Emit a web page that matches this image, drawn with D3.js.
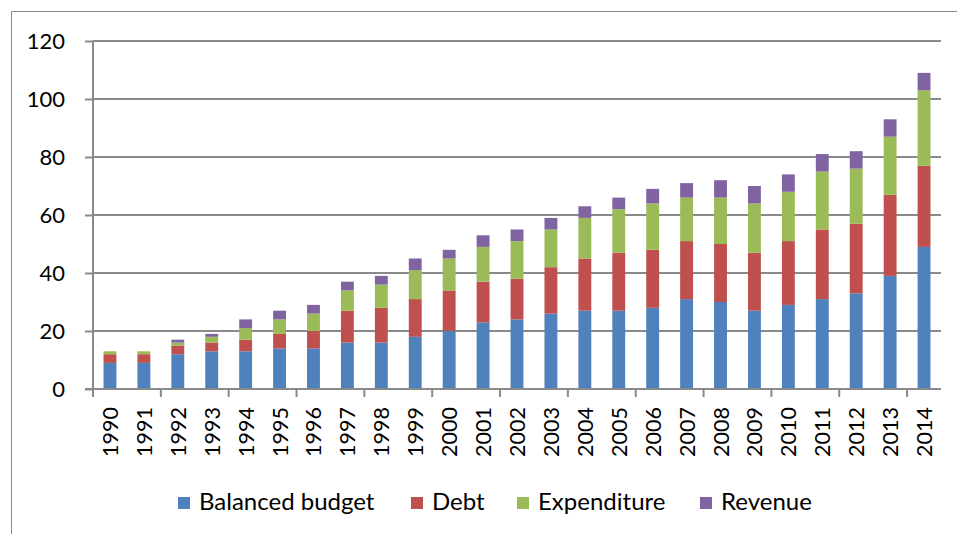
<!DOCTYPE html>
<html>
<head>
<meta charset="utf-8">
<script src="https://cdn.jsdelivr.net/npm/d3@7"></script>
<style>
  body { margin: 0; background: #fff; }
  svg text { font-family: Lato, "Open Sans", sans-serif; fill: #000; }
</style>
</head>
<body>
<script>
// data
const years = ['1990','1991','1992','1993','1994','1995','1996','1997','1998','1999','2000','2001','2002',
  '2003','2004','2005','2006','2007','2008','2009','2010','2011','2012','2013','2014'];
const balancedBudget = [9,9,12,13,13,14,14,16,16,18,20,23,24,26,27,27,28,31,30,27,29,31,33,39,49];
const debt           = [3,3,3,3,4,5,6,11,12,13,14,14,14,16,18,20,20,20,20,20,22,24,24,28,28];
const expenditure    = [1,1,1,2,4,5,6,7,8,10,11,12,13,13,14,15,16,15,16,17,17,20,19,20,26];
const revenue        = [0,0,1,1,3,3,3,3,3,4,3,4,4,4,4,4,5,5,6,6,6,6,6,6,6];
const yTicks = [0,20,40,60,80,100,120];
const seriesNames = ['Balanced budget','Debt','Expenditure','Revenue'];
const colors = ['#4F81BD','#C0504D','#9BBB59','#8064A2'];

const W = 957, H = 534;
const plot = { left: 93, right: 941, top: 41, bottom: 389 };
const gridColor = '#8a8a8a';

const svg = d3.select('body').append('svg').attr('width', W).attr('height', H);

// outer chart frame (only top and left edges visible)
svg.append('path')
  .attr('d', `M11.5,${H} V11.5 H${W}`)
  .attr('fill', 'none').attr('stroke', gridColor).attr('stroke-width', 1);

const x = d3.scaleBand().domain(years).range([plot.left, plot.right]).paddingInner(0.62).paddingOuter(0.31);
const y = d3.scaleLinear().domain([0, 120]).range([plot.bottom, plot.top]);

// y grid + ticks
const yAxis = svg.append('g')
  .attr('transform', `translate(${plot.left},0)`)
  .call(d3.axisLeft(y).tickValues(yTicks).tickSize(8).tickPadding(20));
yAxis.select('.domain').remove();
yAxis.selectAll('line').attr('stroke', gridColor).attr('stroke-width', 2);
yAxis.selectAll('text').attr('font-size', 22).style('font-family', 'Lato, sans-serif');

svg.append('g').selectAll('line').data(yTicks).join('line')
  .attr('x1', plot.left).attr('x2', plot.right)
  .attr('y1', d => y(d)).attr('y2', d => y(d))
  .attr('stroke', gridColor).attr('stroke-width', 2);

// stacked bars
const rows = years.map((yr, i) => ({
  year: yr,
  'Balanced budget': balancedBudget[i],
  'Debt': debt[i],
  'Expenditure': expenditure[i],
  'Revenue': revenue[i]
}));
const stacked = d3.stack().keys(seriesNames)(rows);

svg.append('g').selectAll('g').data(stacked).join('g')
  .attr('fill', (d, i) => colors[i])
  .selectAll('rect').data(d => d).join('rect')
  .attr('x', d => x(d.data.year))
  .attr('width', x.bandwidth())
  .attr('y', d => y(d[1]))
  .attr('height', d => y(d[0]) - y(d[1]));

// x axis line, ticks every 2 categories, labels
const step = x.step();
svg.append('line')
  .attr('x1', plot.left - 8).attr('x2', plot.right)
  .attr('y1', plot.bottom).attr('y2', plot.bottom)
  .attr('stroke', gridColor).attr('stroke-width', 2);
svg.append('line')
  .attr('x1', plot.left).attr('x2', plot.left)
  .attr('y1', plot.top).attr('y2', plot.bottom + 8)
  .attr('stroke', gridColor).attr('stroke-width', 2);

const tickIdx = d3.range(2, years.length + 1, 2);
svg.append('g').selectAll('line').data(tickIdx).join('line')
  .attr('x1', i => plot.left + i * step).attr('x2', i => plot.left + i * step)
  .attr('y1', plot.bottom).attr('y2', plot.bottom + 8)
  .attr('stroke', gridColor).attr('stroke-width', 2);

svg.append('g').selectAll('text').data(years).join('text')
  .attr('transform', d => `translate(${x(d) + x.bandwidth() / 2 + 8},407) rotate(-90)`)
  .attr('text-anchor', 'end')
  .attr('font-size', 21.5)
  .text(d => d);

// legend
const legendX = [178, 411, 517, 700];
const legend = svg.append('g').selectAll('g').data(seriesNames).join('g')
  .attr('transform', (d, i) => `translate(${legendX[i]},497)`);
legend.append('rect').attr('width', 12).attr('height', 12).attr('fill', (d, i) => colors[i]);
legend.append('text').attr('x', 21).attr('y', 13).attr('font-size', 24).text(d => d);
</script>
</body>
</html>
